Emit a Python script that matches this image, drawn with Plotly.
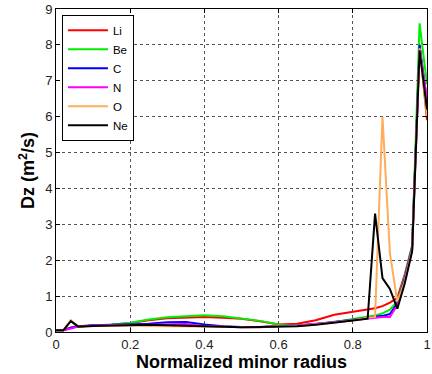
import plotly.graph_objects as go

x = [0, 0.02, 0.04, 0.06, 0.1, 0.15, 0.2, 0.25, 0.3, 0.35, 0.4, 0.45, 0.5, 0.55,
     0.6, 0.65, 0.7, 0.75, 0.8, 0.84, 0.86, 0.88, 0.9, 0.92, 0.94, 0.96, 0.98, 1.0]

li = [0.05, 0.05, 0.12, 0.15, 0.18, 0.2, 0.25, 0.33, 0.38, 0.41, 0.42, 0.4, 0.37, 0.3,
      0.21, 0.23, 0.33, 0.48, 0.56, 0.62, 0.66, 0.72, 0.82, 0.95, 1.6, 2.4, 8.0, 5.9]
be = [0.05, 0.05, 0.12, 0.15, 0.18, 0.2, 0.26, 0.35, 0.41, 0.45, 0.47, 0.44, 0.38, 0.31,
      0.21, 0.18, 0.22, 0.27, 0.36, 0.42, 0.46, 0.52, 0.62, 0.85, 1.55, 2.4, 8.6, 6.9]
c = [0.05, 0.05, 0.12, 0.16, 0.19, 0.2, 0.21, 0.23, 0.27, 0.28, 0.21, 0.16, 0.14, 0.14,
     0.17, 0.18, 0.22, 0.27, 0.34, 0.4, 0.42, 0.45, 0.5, 0.8, 1.5, 2.35, 8.0, 6.4]
n = [0.05, 0.05, 0.1, 0.15, 0.18, 0.2, 0.2, 0.2, 0.22, 0.22, 0.17, 0.14, 0.13, 0.13,
     0.17, 0.18, 0.22, 0.27, 0.33, 0.38, 0.4, 0.42, 0.42, 0.75, 1.45, 2.3, 7.9, 6.5]
o = [0.05, 0.05, 0.33, 0.15, 0.17, 0.18, 0.18, 0.17, 0.16, 0.15, 0.15, 0.13, 0.12, 0.13,
     0.16, 0.17, 0.21, 0.26, 0.33, 0.4, 0.42, 6.0, 2.2, 0.85, 1.4, 2.3, 7.9, 6.0]
ne = [0.05, 0.05, 0.3, 0.15, 0.17, 0.18, 0.2, 0.2, 0.19, 0.17, 0.15, 0.14, 0.13, 0.14,
      0.15, 0.16, 0.2, 0.25, 0.32, 0.37, 3.3, 1.5, 1.2, 0.65, 1.35, 2.25, 7.85, 6.2]

series = [("Li", li, "#ff0000"), ("Be", be, "#00ee00"), ("C", c, "#0000ff"),
          ("N", n, "#ff00ff"), ("O", o, "#ffad5c"), ("Ne", ne, "#000000")]

fig = go.Figure()
for name, ys, col in series:
    fig.add_trace(go.Scatter(x=x, y=ys, mode="lines", name=name,
                             line=dict(color=col, width=2)))

axis_common = dict(showline=True, linecolor="black", linewidth=1, mirror="allticks",
                   ticks="inside", ticklen=4, tickcolor="black",
                   showgrid=True, gridcolor="#555", griddash="dot", gridwidth=1,
                   zeroline=False,
                   tickfont=dict(family="Liberation Sans, Arial", size=13, color="#222"))

fig.update_xaxes(range=[0, 1], tickvals=[0, 0.2, 0.4, 0.6, 0.8, 1],
                 ticktext=["0", "0.2", "0.4", "0.6", "0.8", "1"],
                 ticklabeloverflow="allow",
                 title=dict(text="<b>Normalized minor radius</b>", standoff=2,
                            font=dict(family="Liberation Sans, Arial", size=18, color="black")),
                 **axis_common)
fig.update_yaxes(range=[0, 9], dtick=1,
                 title=dict(text="<b>Dz (m<sup>2</sup>/s)</b>", standoff=5,
                            font=dict(family="Liberation Sans, Arial", size=18, color="black")),
                 **axis_common)

fig.update_layout(width=432, height=374, margin=dict(l=56, r=1, t=9, b=42),
                  paper_bgcolor="white", plot_bgcolor="white",
                  legend=dict(x=0.016, y=0.982, xanchor="left", yanchor="top",
                              bgcolor="white", bordercolor="black", borderwidth=1,
                              font=dict(family="Liberation Sans, Arial", size=11.5, color="black"),
                              tracegroupgap=0, itemwidth=40))

fig.write_html("out.html")
